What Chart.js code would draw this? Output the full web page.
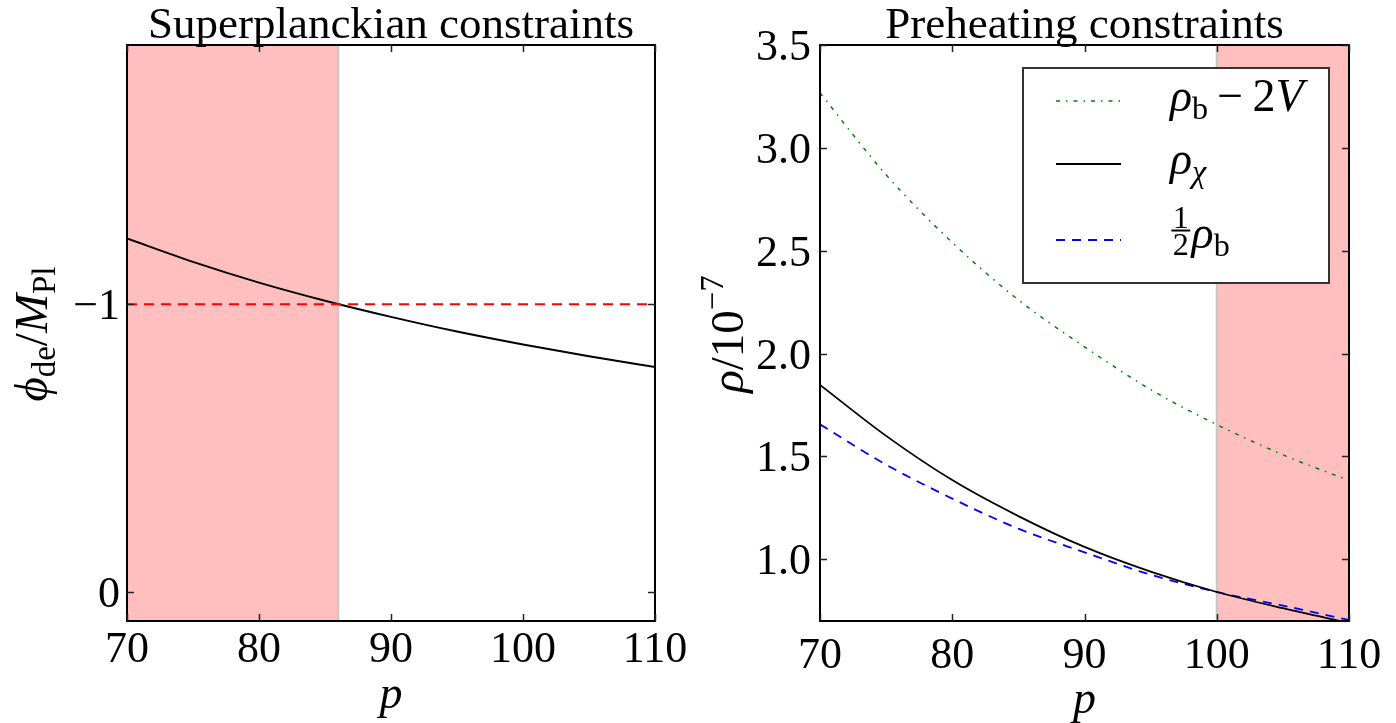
<!DOCTYPE html>
<html>
<head>
<meta charset="utf-8">
<title>Superplanckian and preheating constraints</title>
<script src="https://cdn.jsdelivr.net/npm/chart.js@4.4.1/dist/chart.umd.min.js"></script>
<style>
    html, body { margin: 0; padding: 0; background: #fff; }
    #wrap { position: relative; width: 1396px; height: 723px; overflow: hidden; }
    canvas { position: absolute; top: 0; }
</style>
</head>
<body>
<div id="wrap">
    <canvas id="leftChart" width="700" height="723" style="left:0"></canvas>
    <canvas id="rightChart" width="696" height="723" style="left:700px"></canvas>
</div>
<script>
// Values
const pValues = [70, 75, 80, 85, 90, 95, 100, 105, 110];

// Left panel: field excursion
const phiDe = [-1.228, -1.147, -1.075, -1.012, -0.956, -0.905, -0.860, -0.819, -0.782];
const limitP = [70, 110];
const phiLimit = [-1, -1];
const leftSpan = [70, 86];

// Right panel: energy densities (units of 1e-7)
const rhoB2V = [3.267, 2.869, 2.540, 2.261, 2.033, 1.825, 1.655, 1.508, 1.383];
const rhoChi = [1.848, 1.600, 1.385, 1.210, 1.060, 0.940, 0.841, 0.762, 0.690];
const halfRhoB = [1.656, 1.460, 1.295, 1.149, 1.034, 0.925, 0.841, 0.775, 0.705];
const rightSpan = [100, 110];

// Ticks
const xTicks = [70, 80, 90, 100, 110];
const leftYTicks = [-1, 0];
const leftYLabels = ['\u22121', '0'];
const rightYTicks = [1.0, 1.5, 2.0, 2.5, 3.0, 3.5];
const rightYLabels = ['1.0', '1.5', '2.0', '2.5', '3.0', '3.5'];

const SERIF = '"Liberation Serif", "DejaVu Serif", serif';

function fontOf(size, italic) {
    return (italic ? 'italic ' : '') + size + 'px ' + SERIF;
}

// Small rich-text helper for the math labels
function partWidth(ctx, p, size) {
    if (p.frac) {
        ctx.font = fontOf(size * 0.7, false);
        return Math.max(...p.frac.map(s => ctx.measureText(s).width)) + size * 0.12;
    }
    const s = size * (p.sub || p.sup ? 0.7 : 1);
    ctx.font = fontOf(s, p.it);
    return ctx.measureText(p.t).width + ((p.padL || 0) + (p.padR || 0)) * size;
}

function drawRich(ctx, parts, x, y, size, align) {
    const widths = parts.map(p => partWidth(ctx, p, size));
    const total = widths.reduce((a, b) => a + b, 0);
    let cx = align === 'center' ? x - total / 2 : (align === 'right' ? x - total : x);
    ctx.textAlign = 'left';
    ctx.textBaseline = 'alphabetic';
    ctx.fillStyle = '#000';
    parts.forEach((p, i) => {
        if (p.frac) {
            const fs = size * 0.7;
            ctx.font = fontOf(fs, false);
            const bar = y - size * 0.38;
            const mid = cx + widths[i] / 2;
            ctx.textAlign = 'center';
            ctx.fillText(p.frac[0], mid, bar - size * 0.06);
            ctx.fillText(p.frac[1], mid, bar + size * 0.06 + fs * 0.68);
            ctx.textAlign = 'left';
            ctx.fillRect(cx + size * 0.03, bar - 1, widths[i] - size * 0.06, 2);
        } else {
            const s = size * (p.sub || p.sup ? 0.7 : 1);
            ctx.font = fontOf(s, p.it);
            const dy = p.sub ? size * 0.18 : (p.sup ? -size * 0.42 : 0);
            ctx.fillText(p.t, cx + (p.padL || 0) * size, y + dy);
        }
        cx += widths[i];
    });
}

function makeDecor(cfg) {
    return {
        id: 'decor',
        beforeDatasetsDraw(chart) {
            const { ctx, chartArea: a, scales: { x } } = chart;
            const x0 = x.getPixelForValue(cfg.span[0]);
            const x1 = x.getPixelForValue(cfg.span[1]);
            ctx.save();
            ctx.fillStyle = '#ffbfbf';
            ctx.fillRect(x0, a.top, x1 - x0, a.bottom - a.top);
            ctx.strokeStyle = '#c6c6c6';
            ctx.lineWidth = 2;
            ctx.strokeRect(x0, a.top, x1 - x0, a.bottom - a.top);
            ctx.restore();
        },
        afterDraw(chart) {
            const { ctx, chartArea: a, scales: { x, y } } = chart;
            ctx.save();

            if (cfg.legend) drawLegend(ctx, cfg.legend);

            // frame
            ctx.strokeStyle = '#000';
            ctx.lineWidth = 2;
            ctx.strokeRect(a.left, a.top, a.right - a.left, a.bottom - a.top);

            // inward ticks on all four sides
            ctx.strokeStyle = '#222';
            ctx.lineWidth = 1.5;
            const len = 7;
            ctx.beginPath();
            xTicks.forEach(v => {
                const px = Math.round(x.getPixelForValue(v)) + 0.5;
                ctx.moveTo(px, a.bottom); ctx.lineTo(px, a.bottom - len);
                ctx.moveTo(px, a.top); ctx.lineTo(px, a.top + len);
            });
            cfg.yTicks.forEach(v => {
                const py = Math.round(y.getPixelForValue(v)) + 0.5;
                ctx.moveTo(a.left, py); ctx.lineTo(a.left + len, py);
                ctx.moveTo(a.right, py); ctx.lineTo(a.right - len, py);
            });
            ctx.stroke();

            // tick labels
            ctx.fillStyle = '#000';
            ctx.font = fontOf(44, false);
            ctx.textBaseline = 'alphabetic';
            ctx.textAlign = 'center';
            xTicks.forEach(v => ctx.fillText(String(v), x.getPixelForValue(v), cfg.xLabelBase));
            ctx.textAlign = 'right';
            cfg.yTicks.forEach((v, i) => ctx.fillText(cfg.yLabels[i], cfg.yLabelRight, y.getPixelForValue(v) + 15));

            // title
            ctx.textAlign = 'center';
            ctx.font = fontOf(45, false);
            ctx.fillText(cfg.title, (a.left + a.right) / 2, 38);

            // x label
            drawRich(ctx, [{ t: 'p', it: true }], (a.left + a.right) / 2, cfg.pBase, 46, 'center');

            // y label (rotated)
            ctx.save();
            ctx.translate(cfg.yTitleBase, (a.top + a.bottom) / 2 + 1);
            ctx.rotate(-Math.PI / 2);
            drawRich(ctx, cfg.yTitle, 0, 0, 47, 'center');
            ctx.restore();

            ctx.restore();
        }
    };
}

function drawLegend(ctx, lg) {
    ctx.fillStyle = '#fff';
    ctx.fillRect(lg.box[0], lg.box[1], lg.box[2] - lg.box[0], lg.box[3] - lg.box[1]);
    ctx.strokeStyle = '#333';
    ctx.lineWidth = 2;
    ctx.strokeRect(lg.box[0], lg.box[1], lg.box[2] - lg.box[0], lg.box[3] - lg.box[1]);
    lg.rows.forEach(r => {
        ctx.save();
        ctx.strokeStyle = r.color;
        ctx.lineWidth = r.width;
        ctx.setLineDash(r.dash);
        ctx.beginPath();
        ctx.moveTo(lg.sample[0], r.y);
        ctx.lineTo(lg.sample[1], r.y);
        ctx.stroke();
        ctx.restore();
        drawRich(ctx, r.text, lg.textX, r.base, 46, 'left');
    });
}

function series(xs, ys) {
    return xs.map((v, i) => ({ x: v, y: ys[i] }));
}

function lineSet(data, color, width, dash) {
    return {
        data,
        borderColor: color,
        borderWidth: width,
        borderDash: dash,
        pointRadius: 0,
        fill: false,
        cubicInterpolationMode: 'monotone'
    };
}

const commonOptions = (padding, yMin, yMax, reverse) => ({
    responsive: false,
    animation: false,
    events: [],
    layout: { padding },
    plugins: { legend: { display: false }, tooltip: { enabled: false } },
    scales: {
        x: { type: 'linear', min: 70, max: 110, display: false },
        y: { type: 'linear', min: yMin, max: yMax, reverse, display: false }
    }
});

const dashDot = [4, 6, 1.5, 6];

new Chart(document.getElementById('leftChart'), {
    type: 'line',
    data: {
        datasets: [
            lineSet(series(limitP, phiLimit), '#ff0000', 2, [10, 7]),
            lineSet(series(pValues, phiDe), '#000000', 2, [])
        ]
    },
    options: commonOptions({ left: 127, right: 45, top: 45, bottom: 102 }, -1.9, 0.1, true),
    plugins: [makeDecor({
        span: leftSpan,
        yTicks: leftYTicks,
        yLabels: leftYLabels,
        yLabelRight: 120,
        xLabelBase: 662,
        pBase: 708,
        yTitleBase: 47,
        title: 'Superplanckian constraints',
        yTitle: [
            { t: '\u03d5', it: true }, { t: 'de', sub: true },
            { t: '/', it: false }, { t: 'M', it: true }, { t: 'Pl', sub: true }
        ]
    })]
});

new Chart(document.getElementById('rightChart'), {
    type: 'line',
    data: {
        datasets: [
            lineSet(series(pValues, rhoB2V), '#008000', 1.5, dashDot),
            lineSet(series(pValues, rhoChi), '#000000', 1.8, []),
            lineSet(series(pValues, halfRhoB), '#0000ff', 1.8, [9, 7])
        ]
    },
    options: commonOptions({ left: 120, right: 47, top: 45, bottom: 102 }, 0.7, 3.5, false),
    plugins: [makeDecor({
        span: rightSpan,
        yTicks: rightYTicks,
        yLabels: rightYLabels,
        yLabelRight: 111,
        xLabelBase: 668,
        pBase: 713,
        yTitleBase: 43,
        title: 'Preheating constraints',
        yTitle: [
            { t: '\u03c1', it: true }, { t: '/10', it: false }, { t: '\u22127', sup: true }
        ],
        legend: {
            box: [323, 68, 629, 283],
            sample: [356, 421],
            textX: 470,
            rows: [
                { y: 101, base: 111, color: '#008000', width: 1.5, dash: dashDot,
                  text: [{ t: '\u03c1', it: true }, { t: 'b', sub: true },
                         { t: '\u2212', padL: 0.2, padR: 0.2 }, { t: '2' }, { t: 'V', it: true }] },
                { y: 164, base: 174, color: '#000000', width: 1.8, dash: [],
                  text: [{ t: '\u03c1', it: true }, { t: '\u03c7', sub: true, it: true }] },
                { y: 240, base: 248, color: '#0000ff', width: 1.8, dash: [9, 7],
                  text: [{ frac: ['1', '2'] }, { t: '\u03c1', it: true }, { t: 'b', sub: true }] }
            ]
        }
    })]
});
</script>
</body>
</html>
